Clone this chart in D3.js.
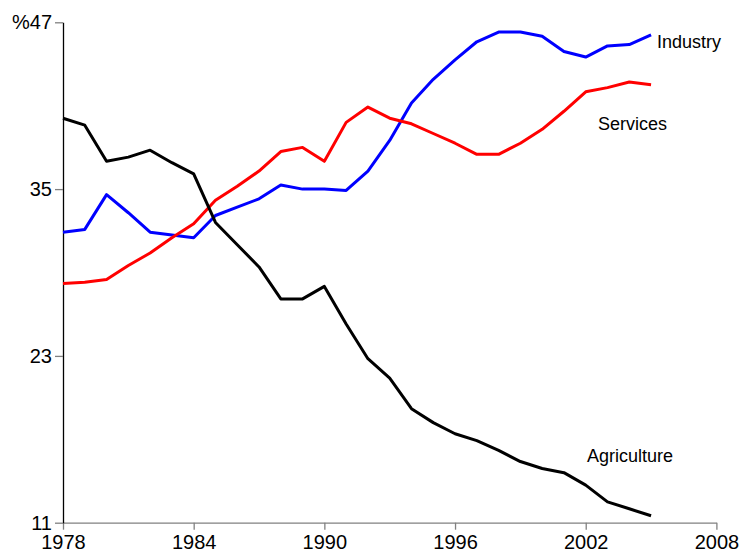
<!DOCTYPE html>
<html>
<head>
<meta charset="utf-8">
<script src="https://cdn.jsdelivr.net/npm/d3@7/dist/d3.min.js"></script>
<style>
  body { margin: 0; background: #fff; }
  svg { font-family: "Liberation Sans", Arial, sans-serif; }
</style>
</head>
<body>
<div id="chart"></div>
<script>
// data (% share)
var years = d3.range(1978, 2006);
var agriculture = [40.1, 39.6, 37.0, 37.3, 37.8, 36.9, 36.1, 32.6, 31.0, 29.4, 27.1, 27.1, 28.0, 25.3, 22.8, 21.4,
                   19.2, 18.2, 17.4, 16.9, 16.2, 15.4, 14.9, 14.6, 13.7, 12.5, 12.0, 11.5];
var industry = [31.9, 32.1, 34.6, 33.3, 31.9, 31.7, 31.5, 33.1, 33.7, 34.3, 35.3, 35.0, 35.0, 34.9, 36.3, 38.5,
                41.2, 42.9, 44.3, 45.6, 46.3, 46.3, 46.0, 44.9, 44.5, 45.3, 45.4, 46.1];
var services = [28.2, 28.3, 28.5, 29.5, 30.4, 31.5, 32.5, 34.2, 35.2, 36.3, 37.7, 38.0, 37.0, 39.8, 40.9, 40.1,
                39.7, 39.0, 38.3, 37.5, 37.5, 38.3, 39.3, 40.6, 42.0, 42.3, 42.7, 42.5];
var xTicks = [1978, 1984, 1990, 1996, 2002, 2008];
var yTicks = [11, 23, 35, 47];

var series = [
    { name: "Industry", values: industry, color: "#0000ff", lx: 657, ly: 47.5 },
    { name: "Services", values: services, color: "#ff0000", lx: 598, ly: 130 },
    { name: "Agriculture", values: agriculture, color: "#000000", lx: 587, ly: 462 }
];

var width = 741, height = 552;

var x = d3.scaleLinear().domain([1978, 2008]).range([63, 716.4]);
var y = d3.scaleLinear().domain([11, 47]).range([522.7, 22.3]);

var svg = d3.select("#chart").append("svg")
    .attr("width", width)
    .attr("height", height);

// x axis (grey)
var gx = svg.append("g")
    .attr("transform", "translate(0," + y(11) + ")")
    .call(d3.axisBottom(x).tickValues(xTicks).tickFormat(d3.format("d")).tickSize(7).tickSizeOuter(0).tickPadding(5));
gx.select(".domain").attr("stroke", "#808080").attr("stroke-width", 1.3);
gx.selectAll(".tick line").attr("stroke", "#808080").attr("stroke-width", 1.3);
gx.selectAll(".tick text").attr("fill", "#000").style("font-size", "20px");

// y axis
var gy = svg.append("g")
    .attr("transform", "translate(" + x(1978) + ",0)")
    .call(d3.axisLeft(y).tickValues(yTicks).tickFormat(function (d) { return d === 47 ? "%47" : d; })
        .tickSize(8).tickSizeOuter(0).tickPadding(3));
gy.select(".domain").attr("stroke", "#000").attr("stroke-width", 1.3);
gy.selectAll(".tick line").attr("stroke", "#808080").attr("stroke-width", 1.3);
gy.selectAll(".tick text").attr("fill", "#000").style("font-size", "20px");

var line = d3.line()
    .x(function (d, i) { return x(years[i]); })
    .y(function (d) { return y(d); });

series.forEach(function (s) {
    svg.append("path")
        .datum(s.values)
        .attr("fill", "none")
        .attr("stroke", s.color)
        .attr("stroke-width", 3)
        .attr("stroke-linejoin", "round")
        .attr("d", line);

    svg.append("text")
        .attr("x", s.lx)
        .attr("y", s.ly)
        .style("font-size", "18px")
        .attr("fill", "#000")
        .text(s.name);
});
</script>
</body>
</html>
